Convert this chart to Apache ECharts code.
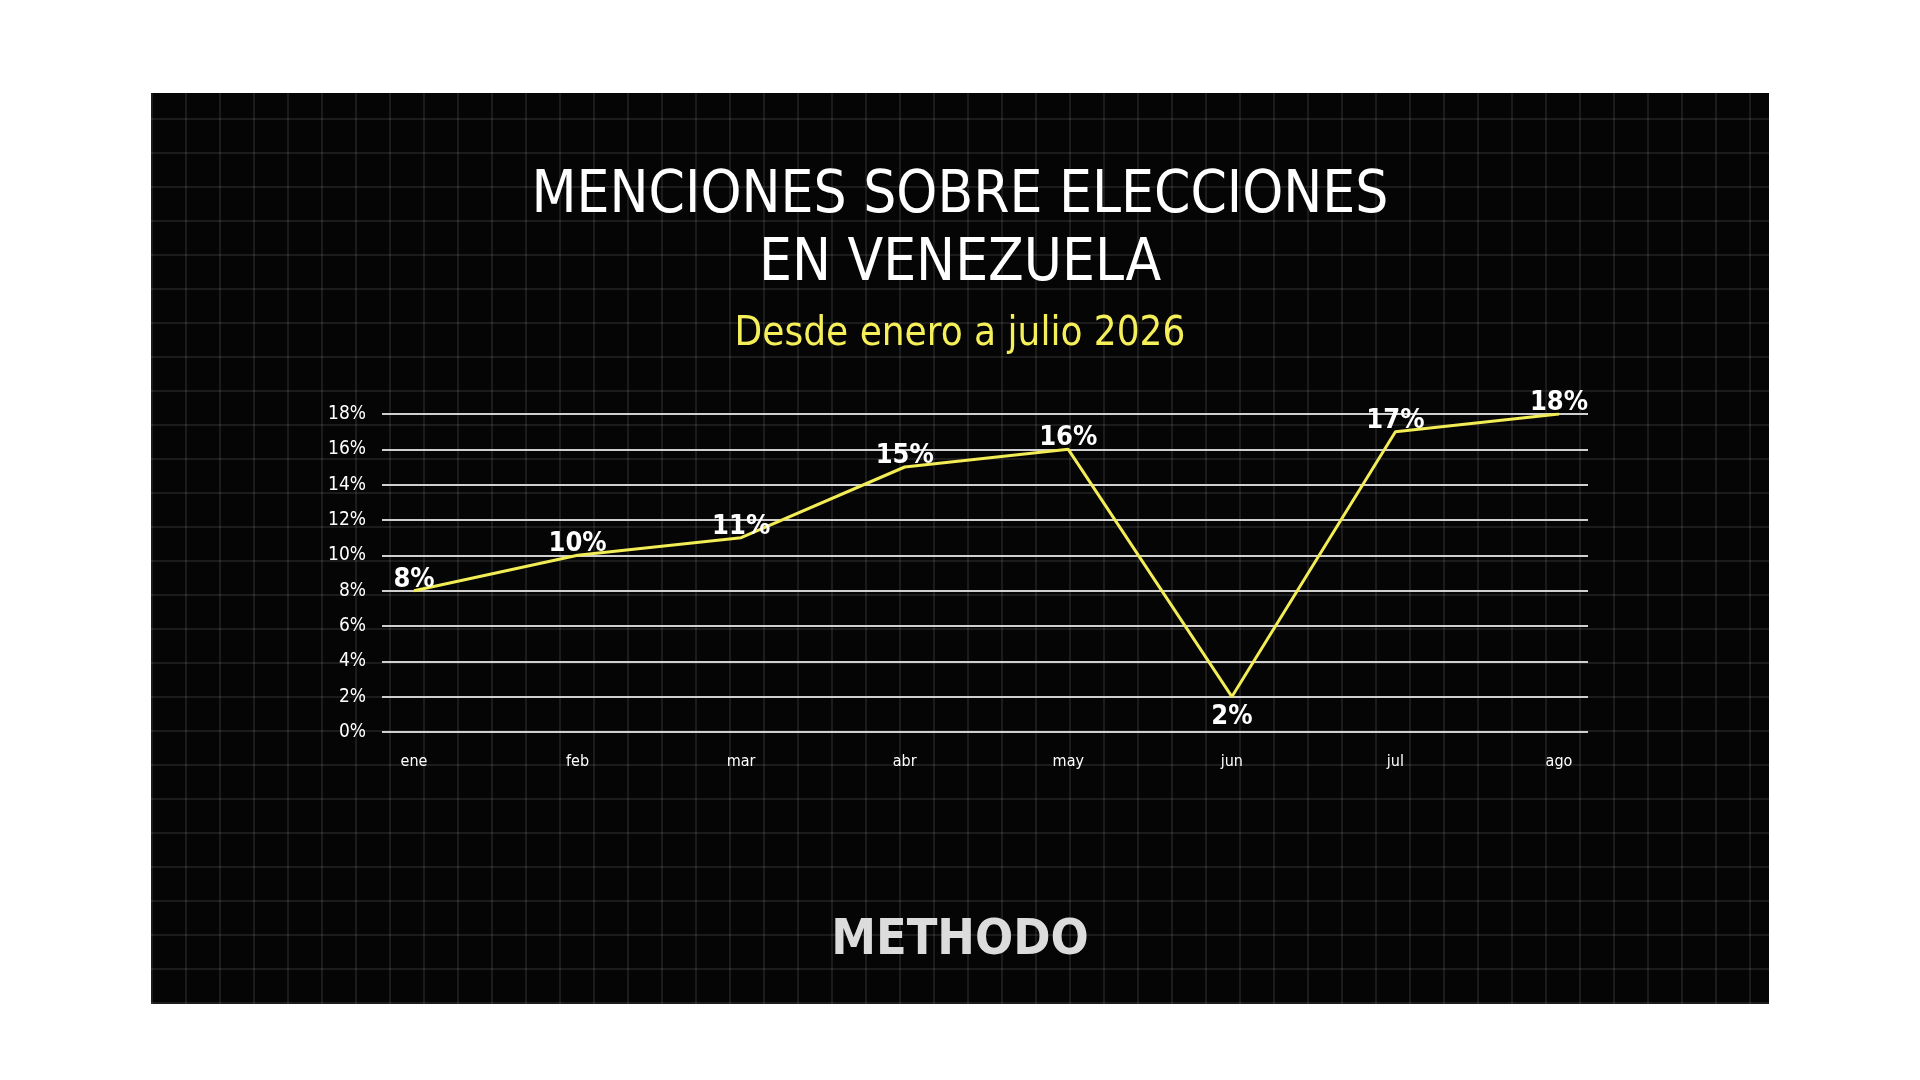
<!DOCTYPE html>
<html>
<head>
<meta charset="utf-8">
<script src="https://cdn.jsdelivr.net/npm/echarts@6/dist/echarts.min.js"></script>
<style>
  body { margin: 0; background: #fff; }
  #panel {
    position: absolute; left: 151px; top: 93px; width: 1618px; height: 911px;
    background-color: #050505;
    background-image:
      repeating-linear-gradient(0deg, rgba(255,255,255,0.09) 0 2px, transparent 2px 34px),
      repeating-linear-gradient(90deg, rgba(255,255,255,0.09) 0 2px, transparent 2px 34px);
  }
  #chart { position: absolute; left: 0; top: 0; width: 1920px; height: 1080px; }
</style>
</head>
<body>
<div id="panel"></div>
<div id="chart"></div>
<script>
const months = ['ene', 'feb', 'mar', 'abr', 'may', 'jun', 'jul', 'ago'];
const mentions = [8, 10, 11, 15, 16, 2, 17, 18];
const labelBelow = ['jun'];

const font = '"DejaVu Sans Condensed", "DejaVu Sans", sans-serif';
const chart = echarts.init(document.getElementById('chart'));

chart.setOption({
    backgroundColor: 'transparent',
    title: [{
        text: 'MENCIONES SOBRE ELECCIONES\nEN VENEZUELA',
        left: 'center', top: 158,
        textStyle: { color: '#fff', fontFamily: font, fontWeight: 'normal', fontSize: 58, lineHeight: 68 }
    }, {
        text: 'Desde enero a julio 2026',
        left: 'center', top: 310,
        textStyle: { color: '#f5ef5a', fontFamily: font, fontWeight: 'normal', fontSize: 40 }
    }],
    grid: [
        { left: 414, right: 361, top: 414, bottom: 348 },
        { left: 382, right: 332, top: 414, bottom: 348 }
    ],
    xAxis: [{
        type: 'category', gridIndex: 0, data: months, boundaryGap: false,
        axisLine: { show: false }, axisTick: { show: false },
        axisLabel: { color: '#fff', fontFamily: font, fontSize: 16, margin: 22 }
    }, {
        type: 'value', gridIndex: 1, show: false, min: 0, max: 1
    }],
    yAxis: [{
        type: 'value', gridIndex: 0, min: 0, max: 18, interval: 2, show: false
    }, {
        type: 'value', gridIndex: 1, min: 0, max: 18, interval: 2,
        axisLine: { show: false }, axisTick: { show: false },
        axisLabel: { color: '#fff', fontFamily: font, fontSize: 19, margin: 16, formatter: '{value}%' },
        splitLine: { lineStyle: { color: '#cfcfcf', width: 2 } }
    }],
    series: [{
        type: 'line', xAxisIndex: 0, yAxisIndex: 0,
        data: mentions.map((v, i) => ({
            value: v,
            label: labelBelow.includes(months[i])
                ? { position: 'bottom', distance: 6 }
                : { position: 'top' }
        })),
        symbol: 'circle', symbolSize: 1, showSymbol: true,
        itemStyle: { color: '#f2ec55' },
        lineStyle: { color: '#f2ec55', width: 3 },
        label: {
            show: true, formatter: '{c}%', color: '#fff', fontFamily: font,
            fontWeight: 'bold', fontSize: 27, distance: -3
        }
    }],
    graphic: [{
        type: 'text', left: 'center', top: 916,
        style: { text: 'METHODO', fill: '#dcdcdc', font: 'bold 50px ' + font }
    }]
});
</script>
</body>
</html>
